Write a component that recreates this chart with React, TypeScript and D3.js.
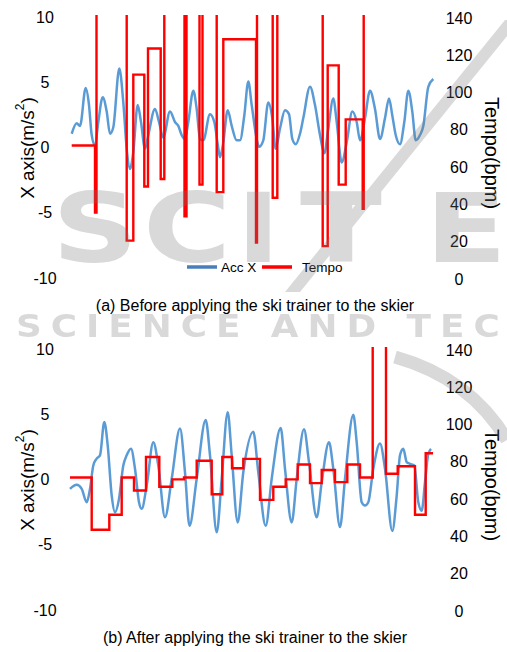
import React from 'react';
import * as d3 from 'd3';

const W = 507;
const H = 652;

// shared time axis (s)
const timeDomain: [number, number] = [0, 36.4];

// (a) before: Acc X [t, m/s2]
const accBefore: [number, number][] = [
  [0.17, 0.9], [0.67, 1.7], [1.0, 1.5], [1.57, 4.4], [1.9, 3.1], [2.17, 0.8], [2.5, 0.0], [2.83, 1.8],
  [3.27, 3.7], [3.67, 2.6], [4.0, 0.9], [4.33, 1.4], [4.93, 5.9], [5.33, 3.3], [5.67, -0.25], [6.0, -1.8],
  [6.33, -0.5], [6.77, 3.1], [7.1, 1.8], [7.5, -0.25], [7.83, 0.8], [8.5, 2.8], [8.9, 1.8], [9.33, 0.6],
  [10.0, 2.6], [10.5, 1.8], [10.83, 1.5], [11.17, 0.8], [11.5, 0.5], [11.83, 1.8], [12.33, 4.2], [12.67, 2.8],
  [13.0, 0.5], [13.33, 0.4], [14.0, 2.4], [14.43, 1.8], [14.83, -0.2], [15.0, -0.9], [15.33, 0.25], [15.77, 2.7],
  [16.17, 1.5], [16.67, 0.4], [17.0, 0.4], [17.43, 2.3], [17.83, 4.9], [18.17, 3.1], [18.67, 0.5], [18.9, -0.1],
  [19.33, 0.4], [19.83, 3.3], [20.23, 2.1], [20.57, -0.25], [21.0, 1.3], [21.5, 2.7], [21.9, 2.4], [22.23, 0.5],
  [22.57, 0.1], [23.0, 0.9], [23.33, 2.1], [24.0, 4.5], [24.5, 3.1], [25.0, 0.8], [25.43, -0.6], [25.83, 1.3],
  [26.33, 3.6], [26.67, 1.8], [27.17, -1.3], [27.67, 0.25], [28.23, 2.6], [28.67, 1.8], [29.0, 0.4], [29.5, 2.1],
  [30.0, 4.2], [30.5, 2.8], [31.0, 0.5], [31.5, 2.1], [31.9, 3.6], [32.23, 2.3], [32.57, 0.8], [33.0, 0.1],
  [33.43, 1.8], [33.83, 4.2], [34.23, 2.6], [34.57, 0.4], [35.0, 0.8], [35.33, 1.5], [35.83, 4.5], [36.33, 5.1],
];

// (a) before: Tempo steps [start t, bpm]; 300 = off the scale
const tempoBefore: [number, number][] = [
  [0.17, 70], [2.5, 34], [2.65, 300], [5.67, 19], [6.33, 108], [7.43, 48], [7.8, 122], [9.07, 52],
  [9.43, 300], [11.45, 32], [11.65, 300], [12.95, 49], [13.25, 300], [14.67, 45], [15.33, 127], [18.6, 18],
  [18.7, 300], [20.27, 42], [20.73, 300], [25.27, 16], [25.77, 113], [26.87, 49], [27.57, 84], [29.27, 36],
  [29.37, 300],
];
const tempoBeforeEnd = 36.4;

// (b) after: Acc X [t, m/s2]
const accAfter: [number, number][] = [
  [0, -0.87], [0.67, -0.56], [1.17, -0.87], [1.67, -1.9], [2.0, -0.87], [2.33, 0.92], [2.67, 1.45], [3.0, 1.7],
  [3.43, 4.25], [3.77, 2.46], [4.17, -1.38], [4.5, -2.67], [4.9, -1.64], [5.33, 0.92], [5.67, 1.7], [6.1, 2.2],
  [6.5, 0.67], [6.9, -1.9], [7.17, -2.4], [7.67, -0.62], [8.33, 2.7], [8.83, 0.92], [9.5, -3.05], [10.17, -0.1],
  [11.0, 3.75], [11.5, 0.4], [11.95, -3.7], [12.67, -0.1], [13.57, 4.4], [14.0, 1.7], [14.67, -4.2], [15.17, -0.1],
  [15.77, 5.0], [16.17, 1.7], [16.77, -3.44], [17.33, 0.4], [18.33, 3.5], [18.83, 0.4], [19.57, -3.7], [20.17, -0.1],
  [21.07, 3.8], [21.5, 0.67], [22.17, -3.44], [22.67, -0.1], [23.4, 3.7], [23.9, 1.18], [24.67, -3.05], [25.17, -0.36],
  [25.9, 2.7], [26.33, 0.67], [27.0, -3.8], [27.5, -0.1], [28.33, 4.8], [28.67, 2.7], [29.17, -1.9], [29.5, -2.15],
  [29.83, -1.9], [30.33, 0.67], [31.0, 2.6], [31.5, 0.67], [32.23, -4.1], [32.67, -1.38], [33.0, 1.7], [33.33, 2.2],
  [33.67, 1.18], [34.0, 1.05], [34.43, 0.92], [34.83, -1.9], [35.17, -2.54], [35.5, -0.36], [35.83, 1.8], [36.1, 2.2],
];

// (b) after: Tempo steps [start t, bpm]
const tempoAfter: [number, number][] = [
  [0, 70], [2.17, 42], [3.93, 50], [5.17, 70], [6.4, 63], [7.6, 81], [8.93, 65], [10.23, 69],
  [11.4, 70], [12.67, 79], [14.17, 61], [15.23, 81], [16.2, 75], [17.33, 80], [19.0, 58], [20.33, 65],
  [21.57, 69], [22.77, 77], [24.0, 67], [25.17, 74], [26.5, 67.5], [27.73, 77], [29.0, 70], [30.27, 300],
  [31.6, 72], [32.77, 76], [34.5, 50], [35.57, 83],
];
const tempoAfterEnd = 36.3;

const accTicks = [10, 5, 0, -5, -10];
const tempoTicks = [0, 20, 40, 60, 80, 100, 120, 140];
const captions = [
  '(a) Before applying the ski trainer to the skier',
  '(b) After applying the ski trainer to the skier',
];

const FONT = "'Liberation Sans', Arial, sans-serif";
const BLUE = '#5b9bd5';
const RED = '#ff0000';

type PanelProps = {
  top: number;
  acc: [number, number][];
  tempo: [number, number][];
  tempoEnd: number;
  caption: string;
  legend?: boolean;
  id: string;
};

const Panel = ({ top, acc, tempo, tempoEnd, caption, legend, id }: PanelProps) => {
  const h = 261;
  const x = d3.scaleLinear().domain(timeDomain).range([70, 434]);
  const yL = d3.scaleLinear().domain([-10, 10]).range([top + h, top]);
  const yR = d3.scaleLinear().domain([0, 140]).range([top + h, top]);

  const accLine = d3.line<[number, number]>()
    .x(d => x(d[0]))
    .y(d => yL(d[1]))
    .curve(d3.curveMonotoneX);

  const steps = [...tempo, [tempoEnd, tempo[tempo.length - 1][1]] as [number, number]];
  const tempoLine = d3.line<[number, number]>()
    .x(d => x(d[0]))
    .y(d => yR(d[1]))
    .curve(d3.curveStepAfter);

  return (
    <g>
      <defs>
        <clipPath id={id}>
          <rect x={0} y={top} width={W} height={h} />
        </clipPath>
      </defs>

      {/* left axis labels */}
      {accTicks.map(t => (
        <text key={'l' + t} x={45} y={yL(t) + 2} textAnchor="middle" dominantBaseline="central"
          fontSize={16} fontFamily={FONT} fill="#000">{t}</text>
      ))}
      {/* right axis labels */}
      {tempoTicks.map(t => (
        <text key={'r' + t} x={459} y={yR(t) + 3} textAnchor="middle" dominantBaseline="central"
          fontSize={16} fontFamily={FONT} fill="#000">{t}</text>
      ))}

      <text transform={`translate(27,${top + 133}) rotate(-90)`} textAnchor="middle" dominantBaseline="central"
        fontSize={19} fontFamily={FONT} fill="#000">
        X axis(m/s<tspan fontSize={12} dy={-7}>2</tspan><tspan dy={7}>)</tspan>
      </text>
      <text transform={`translate(492,${top + 138}) rotate(90)`} textAnchor="middle" dominantBaseline="central"
        fontSize={20} fontFamily={FONT} fill="#000">Tempo(bpm)</text>

      <path d={accLine(acc) ?? ''} fill="none" stroke={BLUE} strokeWidth={2.5} strokeLinejoin="round" />
      <path d={tempoLine(steps) ?? ''} fill="none" stroke={RED} strokeWidth={2.4} clipPath={`url(#${id})`} />

      {legend && (
        <g fontFamily={FONT} fontSize={13.5}>
          <line x1={187} x2={217} y1={top + 252} y2={top + 252} stroke="#4a7ebb" strokeWidth={3.5} />
          <text x={221} y={top + 252} dominantBaseline="central">Acc X</text>
          <line x1={262} x2={292} y1={top + 252} y2={top + 252} stroke={RED} strokeWidth={3.5} />
          <text x={302} y={top + 252} dominantBaseline="central">Tempo</text>
        </g>
      )}

      <text x={255} y={top + 296} textAnchor="middle" fontSize={16} fontFamily={FONT} fill="#000">{caption}</text>
    </g>
  );
};

// faint publisher watermark lying over the figure
const Watermark = () => {
  const letters: [string, number][] = [['S', 52], ['C', 143], ['I', 236], ['T', 300], ['E', 425]];
  return (
    <g fill="#777" opacity={0.28} fontFamily="'DejaVu Sans', sans-serif" fontWeight="bold" pointerEvents="none">
      {letters.map(([c, lx]) => (
        <text key={c} transform={`translate(${lx},262) scale(1.25,1)`} fontSize={96}>{c}</text>
      ))}
      <text transform="translate(16,337) scale(1.12,1)" fontSize={32} letterSpacing={8}>SCIENCE AND TECHNOLOGY</text>
      <polygon points="505,20 520,20 300,292 285,292" />
      <path d="M395,357 Q470,378 507,440" fill="none" stroke="#777" strokeWidth={13} />
    </g>
  );
};

export default function App() {
  return (
    <svg width={W} height={H} style={{ position: 'absolute', left: 0, top: 0, background: '#fff' }}>
      <rect width={W} height={H} fill="#fff" />
      <Panel id="clipA" top={15} acc={accBefore} tempo={tempoBefore} tempoEnd={tempoBeforeEnd} caption={captions[0]} legend />
      <Panel id="clipB" top={347} acc={accAfter} tempo={tempoAfter} tempoEnd={tempoAfterEnd} caption={captions[1]} />
      <Watermark />
    </svg>
  );
}
